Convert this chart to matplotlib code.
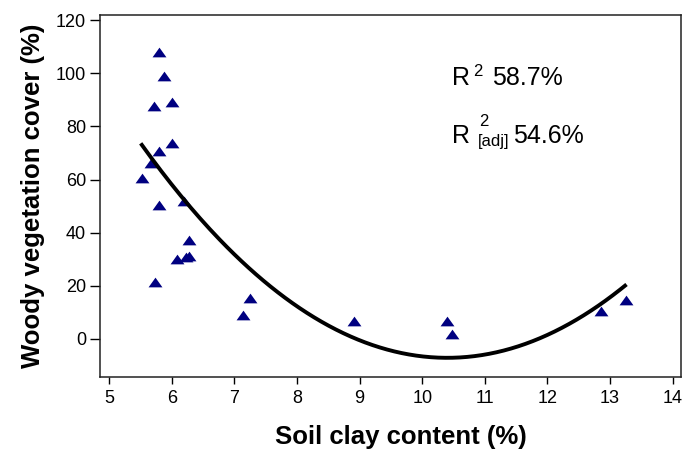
#!/usr/bin/env python3
"""
Woody vegetation cover vs soil clay content, with quadratic fit.
"""

import matplotlib
matplotlib.use('Agg')
import matplotlib.pyplot as plt
import numpy as np

plt.rcParams['font.family'] = ['Liberation Sans', 'DejaVu Sans']

clay = [5.80, 5.875, 5.71, 6.00, 6.00, 5.80, 5.67, 5.52, 5.80, 6.20, 6.275,
        6.08, 6.23, 6.28, 5.73, 7.25, 7.13, 8.91, 10.39, 10.47, 12.85, 13.25]
cover = [108.1, 98.9, 87.7, 89.3, 73.9, 70.8, 66.1, 60.4, 50.5, 52.0, 37.4,
         30.1, 31.0, 31.3, 21.6, 15.4, 9.1, 6.9, 6.9, 2.0, 10.6, 14.5]

# Quadratic fit coefficients (highest power first) and fitted range
fit_coeffs = [3.364, -69.97, 356.75]
fit_range = [5.52, 13.24]

x_ticks = [5, 6, 7, 8, 9, 10, 11, 12, 13, 14]
y_ticks = [0, 20, 40, 60, 80, 100, 120]

NAVY = '#000080'
W, H = 682, 453

fig = plt.figure(figsize=(W / 100, H / 100), dpi=100)
ax = fig.add_axes([0.1466, 0.1678, 0.8515, 0.7991])

# flattened triangle marker
tri = [(-1.0, -0.7), (1.0, -0.7), (0.0, 0.7), (-1.0, -0.7)]
ax.plot(clay, cover, linestyle='none', marker=tri, markersize=10,
        color=NAVY, markeredgewidth=0)

xs = np.linspace(fit_range[0], fit_range[1], 200)
ax.plot(xs, np.polyval(fit_coeffs, xs), color='black', linewidth=2.8)

ax.set_xlim(4.851, 14.13)
ax.set_ylim(-14.3, 121.9)
ax.set_xticks(x_ticks)
ax.set_yticks(y_ticks)
ax.tick_params(direction='out', width=1, labelsize=13)
ax.tick_params(axis='x', length=5, pad=4.5)
ax.tick_params(axis='y', length=7, pad=3)
for s in ax.spines.values():
    s.set_linewidth(1.1)
    s.set_color('#222222')

ax.set_xlabel('Soil clay content (%)', fontsize=18.5, fontweight='bold', labelpad=13)
ax.xaxis.label.set_x(0.518)
ax.set_ylabel('Woody vegetation cover (%)', fontsize=18.5, fontweight='bold', labelpad=8)

# fit statistics (pixel positions from the top-left corner)
def px_text(x, y, s, size):
    fig.text(x / W, 1 - y / H, s, fontsize=size, ha='left', va='baseline')

px_text(452, 85, 'R', 18)
px_text(473, 76, '2', 12)
px_text(492, 85, '58.7%', 18)
px_text(452, 143, 'R', 18)
px_text(479, 126, '2', 12)
px_text(478, 146, '[adj]', 12)
px_text(513, 143, '54.6%', 18)

fig.savefig('out.png', dpi=100)
